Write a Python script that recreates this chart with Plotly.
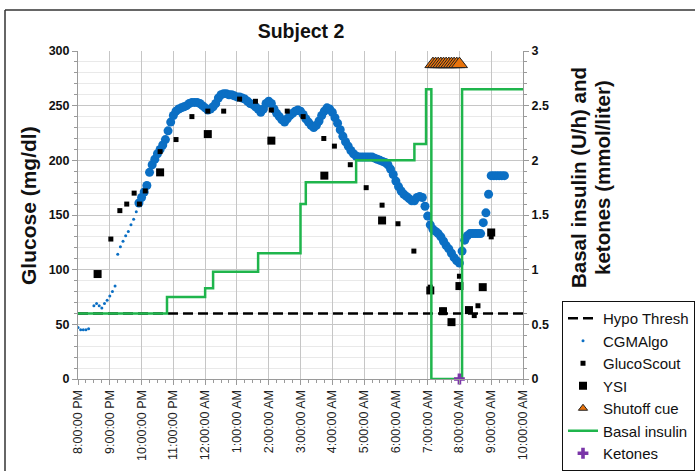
import pandas as pd
import plotly.graph_objects as go

# ---------------------------------------------------------------- data
FIRST_DAY = "2014-03-01"
SECOND_DAY = "2014-03-02"
START = "20:00"
END = "10:00"

# hypoglycaemia threshold (mg/dl)
hypo_thresh = 60

# CGM algorithm, sparse early readings (mg/dl)
cgm_sparse_times = ["20:00", "20:05", "20:10", "20:15", "20:20",
                    "20:30", "20:35", "20:40", "20:45", "20:50", "20:55",
                    "21:00", "21:05", "21:10", "21:15", "21:20", "21:25",
                    "21:30", "21:35", "21:40", "21:45", "21:50"]
cgm_sparse_values = [47, 45, 45, 45, 46,
                     67, 69, 67, 65, 69, 72,
                     76, 80, 85, 114, 121, 126,
                     131, 135, 141, 146, 153]

# CGM algorithm, 5-minute readings from 21:55 onward (mg/dl)
cgm_start = "21:55"
cgm_values = [
    161,
    166, 171, 177, 189, 196, 201, 206, 210, 214, 219, 227, 235,   # 22:00
    241, 245, 247, 248, 249, 250, 252, 253, 253, 253, 252, 250,   # 23:00
    248, 246, 247, 249, 252, 257, 260, 261, 261, 260, 260, 259,   # 00:00
    258, 258, 257, 256, 254, 252, 251, 249, 247, 244, 247, 252,   # 01:00
    254, 252, 247, 243, 240, 237, 235, 238, 241, 243, 245, 246,   # 02:00
    245, 242, 238, 235, 232, 230, 232, 236, 241, 245, 248, 247,   # 03:00
    244, 239, 234, 228, 222, 217, 213, 209, 206, 204, 203, 203,   # 04:00
    203, 203, 203, 203, 202, 201, 200, 199, 198, 196, 192, 187,   # 05:00
    181, 176, 172, 169, 167, 165, 163, 163, 166, 167, 166, 158,   # 06:00
    149, 141, 137, 135, 133, 130, 126, 122, 119, 115, 111, 108,   # 07:00
    106, 117, 127, 131, 133, 133, 133, 133, 133, 143, 152, 169,   # 08:00
    186, 186, 186, 186, 186, 186,                                 # 09:00
]

# GlucoScout readings (mg/dl)
gs_times = ["21:02", "21:19", "21:32", "21:46", "21:56", "22:07", "22:35",
            "23:05", "23:35", "00:05", "00:35", "01:05", "01:35", "02:05",
            "02:35", "03:05", "03:44", "04:04", "04:34", "05:04", "05:34",
            "06:04", "06:34", "07:05", "07:29", "08:00", "08:16", "08:28",
            "08:35", "09:00"]
gs_values = [128, 154, 160, 170, 160, 172, 208,
             219, 240, 245, 245, 256, 254, 246,
             245, 240, 220, 213, 196, 175, 159,
             142, 117, 84, 63, 94, 64, 58,
             67, 130]

# YSI reference readings (mg/dl)
ysi_times = ["20:37", "22:35", "00:05", "02:05", "03:45", "05:34", "07:05",
             "07:29", "07:45", "08:00", "08:18", "08:44", "09:00"]
ysi_values = [96, 189, 224, 218, 186, 145, 81,
              62, 52, 85, 63, 84, 134]

# pump shutoff cue markers (plotted on the right axis)
shutoff_times = ["07:10", "07:15", "07:20", "07:25", "07:30", "07:35",
                 "07:40", "07:45", "07:50", "07:55", "08:00"]
shutoff_level = 2.88

# basal insulin rate changes (U/h)
basal_times = ["20:00", "22:48", "00:00", "00:15", "01:40", "03:00", "03:10",
               "04:45", "06:35", "06:57", "07:07", "08:05", "10:00"]
basal_values = [0.6, 0.75, 0.83, 0.98, 1.15, 1.6, 1.8,
                2.0, 2.15, 2.65, 0.0, 2.65, 2.65]

# ketones (mmol/liter)
ketone_times = ["08:00"]
ketone_values = [0.0]


def stamp(hhmm):
    """Evening clock times fall on the first day, morning ones on the next."""
    h, m = (int(v) for v in hhmm.split(":"))
    day = FIRST_DAY if h >= 12 else SECOND_DAY
    return pd.Timestamp(f"{day} {h:02d}:{m:02d}")


def stamps(times):
    return [stamp(t) for t in times]


cgm_times = pd.date_range(stamp(cgm_start), periods=len(cgm_values), freq="5min")
x_start, x_end = stamp(START), stamp(END)

# ---------------------------------------------------------------- layout helpers
W, H = 695, 471
ML, MR, MT, MB = 78, 172, 51, 92
PW, PH = W - ML - MR, H - MT - MB


def px(x):
    return (x - ML) / PW


def py(y):
    return (H - MB - y) / PH


FONT = "Liberation Sans, Arial, Helvetica, sans-serif"
BLUE = "#0b6fc4"
GREEN = "#1fb54c"
ORANGE = "#e8730c"
PURPLE = "#7a35a8"
GRID = "#c6c6c6"
AXIS = "#9a9a9a"

fig = go.Figure()

fig.add_trace(go.Scatter(
    x=[x_start, x_end], y=[hypo_thresh, hypo_thresh], name="Hypo Thresh",
    mode="lines", line=dict(color="black", width=2.5, dash="10px,5px")))

fig.add_trace(go.Scatter(
    x=stamps(cgm_sparse_times), y=cgm_sparse_values, name="CGMAlgo",
    mode="markers", marker=dict(color=BLUE, size=3)))

fig.add_trace(go.Scatter(
    x=cgm_times, y=cgm_values, name="CGMAlgo", showlegend=False,
    mode="markers", marker=dict(color=BLUE, size=9)))

fig.add_trace(go.Scatter(
    x=stamps(gs_times), y=gs_values, name="GlucoScout",
    mode="markers", marker=dict(color="black", symbol="square", size=5)))

fig.add_trace(go.Scatter(
    x=stamps(ysi_times), y=ysi_values, name="YSI",
    mode="markers", marker=dict(color="black", symbol="square", size=8)))

fig.add_trace(go.Scatter(
    x=stamps(shutoff_times), y=[shutoff_level] * len(shutoff_times),
    name="Shutoff cue", showlegend=False, yaxis="y2", mode="markers",
    marker=dict(color=ORANGE, symbol="triangle-up", size=14,
                line=dict(color="#222", width=1))))

# legend swatch for the shutoff cue, drawn at legend size
fig.add_trace(go.Scatter(
    x=[None], y=[None], name="Shutoff cue", yaxis="y2", mode="markers",
    marker=dict(color=ORANGE, symbol="triangle-up", size=8,
                line=dict(color="#222", width=1))))

fig.add_trace(go.Scatter(
    x=stamps(basal_times), y=basal_values, name="Basal insulin", yaxis="y2",
    mode="lines", line=dict(color=GREEN, width=2.5, shape="hv")))

fig.add_trace(go.Scatter(
    x=stamps(ketone_times), y=ketone_values, name="Ketones", yaxis="y2",
    mode="markers", cliponaxis=False,
    marker=dict(color=PURPLE, symbol="cross", size=9)))

tick_font = dict(family=FONT, size=12.5, color="#111", weight="bold")

fig.update_layout(
    width=W, height=H,
    margin=dict(l=ML, r=MR, t=MT, b=MB, autoexpand=False),
    paper_bgcolor="white", plot_bgcolor="white",
    font=dict(family=FONT, color="#111"),
    title=dict(text="Subject 2", x=301 / W, xanchor="center",
               y=1 - 31 / H, yanchor="middle",
               font=dict(family=FONT, size=19.5, weight="bold", color="#111")),
    xaxis=dict(
        type="date", range=[x_start, x_end], tick0=x_start, dtick=3600000,
        tickformat="%-I:%M:%S %p", tickangle=-90, automargin=False,
        tickfont=dict(family=FONT, size=12.5, color="#222"),
        ticks="outside", ticklen=5, tickcolor=AXIS,
        showgrid=True, gridcolor=GRID, gridwidth=1,
        showline=True, linecolor=AXIS, zeroline=False,
        minor=dict(dtick=900000, ticks="outside", ticklen=3,
                   tickcolor=AXIS, showgrid=False)),
    yaxis=dict(
        range=[0, 300], tick0=0, dtick=50, tickfont=tick_font,
        automargin=False,
        ticks="outside", ticklen=5, tickcolor=AXIS,
        showgrid=True, gridcolor=GRID, gridwidth=1,
        showline=True, linecolor=AXIS, zeroline=False,
        minor=dict(dtick=10, ticks="outside", ticklen=3, tickcolor=AXIS,
                   showgrid=True, gridcolor="#e9e9e9")),
    yaxis2=dict(
        overlaying="y", side="right", range=[0, 3], tick0=0, dtick=0.5,
        automargin=False,
        tickfont=tick_font, ticks="outside", ticklen=5, tickcolor=AXIS,
        showgrid=False, showline=True, linecolor=AXIS, zeroline=False,
        minor=dict(dtick=0.1, ticks="outside", ticklen=3, tickcolor=AXIS)),
    legend=dict(
        xref="container", yref="container",
        x=562 / W, y=1 - 301 / H, xanchor="left", yanchor="top",
        bgcolor="white", bordercolor="#111", borderwidth=1,
        font=dict(family=FONT, size=15, color="#111"),
        itemwidth=30, tracegroupgap=0),
    showlegend=True,
)

# axis titles
fig.add_annotation(
    text="Glucose (mg/dl)", x=px(28), y=py(206), xref="paper", yref="paper",
    textangle=-90, showarrow=False, xanchor="center", yanchor="middle",
    font=dict(family=FONT, size=21, weight="bold", color="#111"))
fig.add_annotation(
    text="Basal insulin (U/h) and", x=px(578), y=py(178), xref="paper",
    yref="paper", textangle=-90, showarrow=False, xanchor="center",
    yanchor="middle", font=dict(family=FONT, size=20.5, weight="bold", color="#111"))
fig.add_annotation(
    text="ketones (mmol/liter)", x=px(602), y=py(178), xref="paper",
    yref="paper", textangle=-90, showarrow=False, xanchor="center",
    yanchor="middle", font=dict(family=FONT, size=20.5, weight="bold", color="#111"))

# chart frame
fig.add_shape(type="line", xref="paper", yref="paper",
              x0=px(5), x1=px(W), y0=py(10), y1=py(10),
              line=dict(color="#333", width=1.5))
fig.add_shape(type="line", xref="paper", yref="paper",
              x0=px(5), x1=px(5), y0=py(10), y1=py(H),
              line=dict(color="#333", width=1.5))

fig.write_html("out.html")
